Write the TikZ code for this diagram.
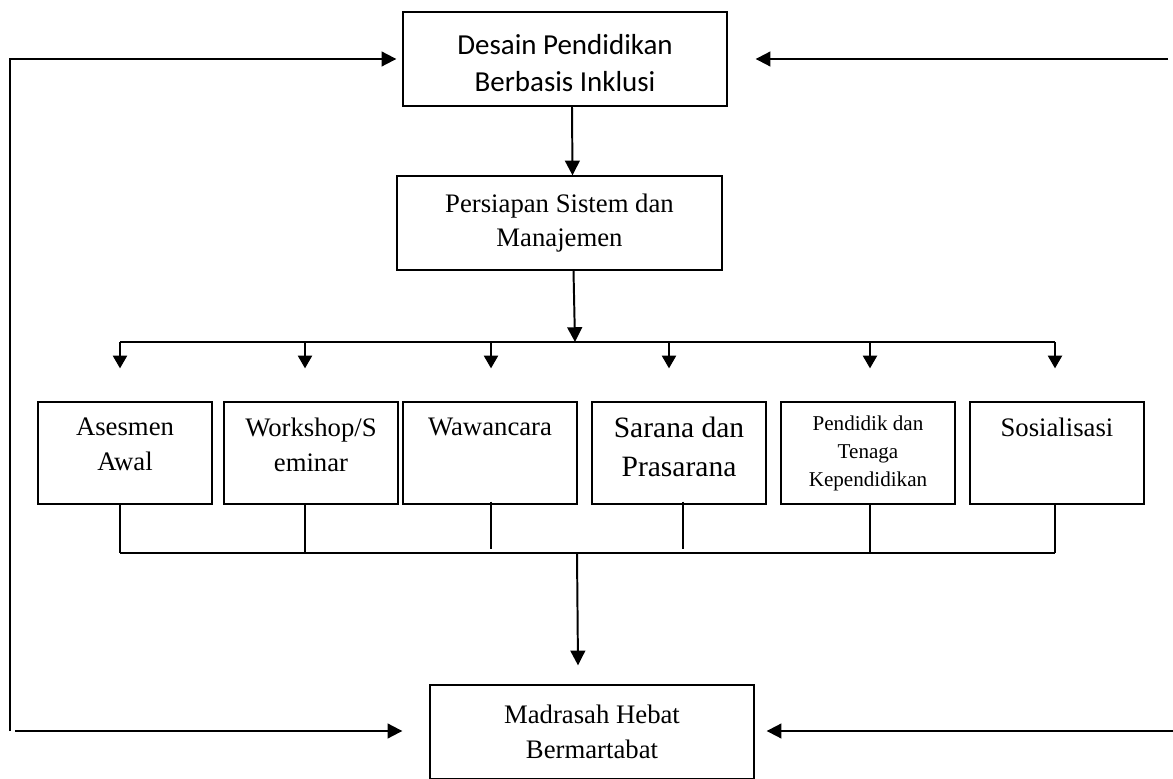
\documentclass[tikz,border=0pt]{standalone}
\usepackage{fontspec}
\setmainfont{Liberation Serif}
\newfontfamily\calibri{Carlito}
\usetikzlibrary{positioning,arrows.meta,calc}

\begin{document}
\begin{tikzpicture}[x=0.025cm, y=0.025cm,
bigbox/.style={rectangle, draw=black, line width=0.9pt, minimum width=8.1cm, minimum height=2.35cm, align=center, inner sep=0pt, font=\fontsize{19}{25}\selectfont},
smallbox/.style={rectangle, draw=black, line width=0.9pt, minimum width=4.35cm, minimum height=2.55cm, inner sep=0pt},
boxtext/.style={align=center, inner sep=0pt, font=\fontsize{19}{25}\selectfont},
arrow/.style={line width=1.4pt, -{Triangle[length=10.5pt,width=10.5pt]}},
downarrow/.style={line width=1.3pt, -{Triangle[length=9pt,width=10pt]}},
link/.style={line width=1.1pt}
]
\clip (0,0) rectangle (1173,778);

%Nodes
\node[bigbox, font=\calibri\fontsize{20.6}{26.5}\selectfont] (desain) at (565,719) {\rule{0pt}{20pt}Desain Pendidikan\\Berbasis Inklusi};
\node[bigbox, minimum width=8.125cm, font=\fontsize{19}{24}\selectfont] (persiapan) at (559.5,555) {Persiapan Sistem dan\\Manajemen};
\node[smallbox] (asesmen) at (125,325) {};
\node[smallbox] (workshop) at (311,325) {};
\node[smallbox] (wawancara) at (490,325) {};
\node[smallbox] (sarana) at (679,325) {};
\node[smallbox] (pendidik) at (868,325) {};
\node[smallbox] (sosialisasi) at (1057,325) {};
\node[bigbox] (madrasah) at (592,46) {Madrasah Hebat\\Bermartabat};

%Texts in the small boxes
\node[boxtext, below=11.5pt of asesmen.north] (asesmenT) {Asesmen\\Awal};
\node[boxtext, below=11.5pt of workshop.north] (workshopT) {Workshop/S\\eminar};
\node[boxtext, below=11.5pt of wawancara.north] (wawancaraT) {Wawancara};
\node[boxtext, below=11pt of sarana.north, font=\fontsize{21}{28}\selectfont] (saranaT) {Sarana dan\\Prasarana};
\node[boxtext, below=10pt of pendidik.north, font=\fontsize{15}{20}\selectfont] (pendidikT) {Pendidik dan\\Tenaga\\Kependidikan};
\node[boxtext, below=11.5pt of sosialisasi.north] (sosialisasiT) {Sosialisasi};

%Coordinates
\coordinate (bus1) at (575,436);
\coordinate (bus2) at (577,225);
\coordinate (lefttop) at (10,719);
\coordinate (leftbot) at (10,47);
\coordinate (righttop) at (1168,719);
\coordinate (rightbot) at (1173,47);

%Lines
\draw[arrow] ($(desain.south)+(7,0)$) -- ($(persiapan.north)+(13,0)$);
\draw[arrow] ($(persiapan.south)+(14,0)$) -- (bus1);
\draw[link] ($(asesmen.north |- bus1)+(-5,0)$) -- ($(sosialisasi.north |- bus1)+(-2,0)$);
\draw[downarrow] ($(asesmen.north |- bus1)+(-5,0)$) -- ($(asesmen.north)+(-5,33)$);
\draw[downarrow] ($(workshop.north |- bus1)+(-6,0)$) -- ($(workshop.north)+(-6,33)$);
\draw[downarrow] ($(wawancara.north |- bus1)+(1,0)$) -- ($(wawancara.north)+(1,33)$);
\draw[downarrow] ($(sarana.north |- bus1)+(-10,0)$) -- ($(sarana.north)+(-10,33)$);
\draw[downarrow] ($(pendidik.north |- bus1)+(2,0)$) -- ($(pendidik.north)+(2,33)$);
\draw[downarrow] ($(sosialisasi.north |- bus1)+(-2,0)$) -- ($(sosialisasi.north)+(-2,33)$);

\draw[link] ($(asesmen.south)+(-5,0)$) -- ($(asesmen.south |- bus2)+(-5,0)$);
\draw[link] ($(workshop.south)+(-6,0)$) -- ($(workshop.south |- bus2)+(-6,0)$);
\draw[link] ($(wawancara.south)+(1,3)$) -- ($(wawancara.south |- bus2)+(1,4)$);
\draw[link] ($(sarana.south)+(4,3)$) -- ($(sarana.south |- bus2)+(4,4)$);
\draw[link] ($(pendidik.south)+(2,0)$) -- ($(pendidik.south |- bus2)+(2,0)$);
\draw[link] ($(sosialisasi.south)+(-2,0)$) -- ($(sosialisasi.south |- bus2)+(-2,0)$);
\draw[link] ($(asesmen.south |- bus2)+(-5,0)$) -- ($(sosialisasi.south |- bus2)+(-2,0)$);
\draw[arrow] (bus2) -- ($(madrasah.north)+(-14,19)$);

%Feedback lines
\draw[arrow] (leftbot) -- (lefttop) -- ($(desain.west)+(-6,0)$);
\draw[arrow] ($(leftbot)+(5,0)$) -- ($(madrasah.west |- leftbot)+(-27,0)$);
\draw[arrow] (righttop) -- ($(desain.east)+(28,0)$);
\draw[arrow] (rightbot) -- ($(madrasah.east |- rightbot)+(12,0)$);

\end{tikzpicture}
\end{document}
